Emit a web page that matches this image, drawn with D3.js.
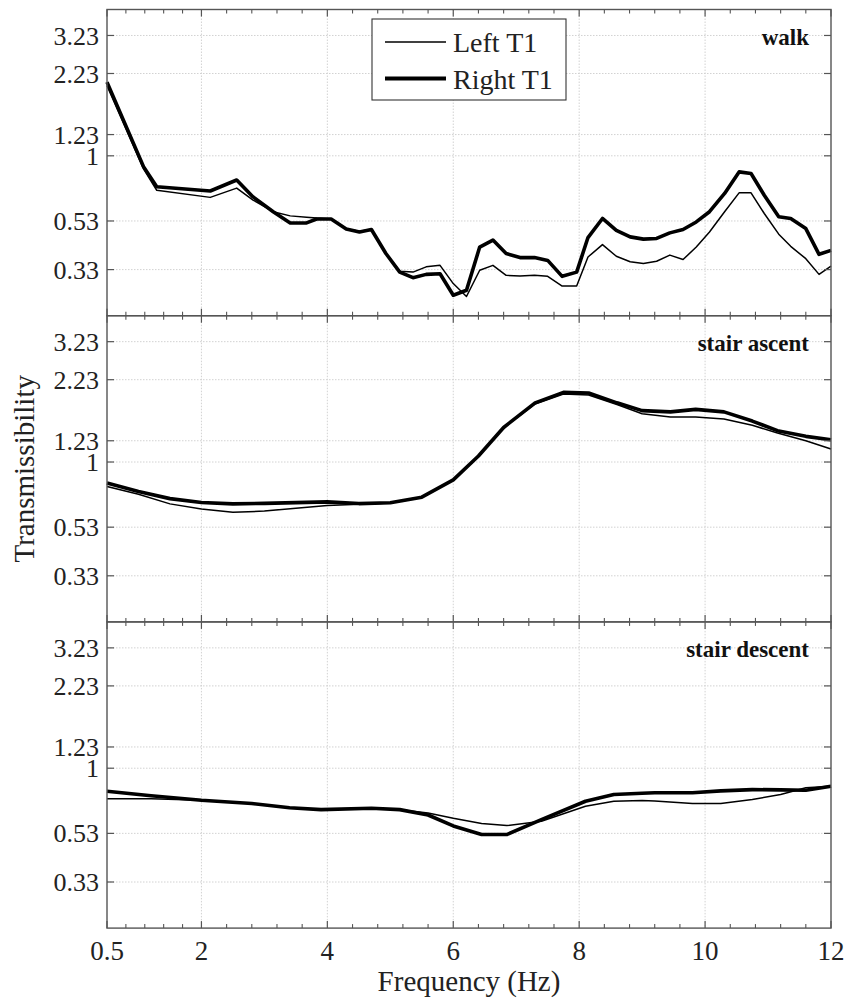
<!DOCTYPE html>
<html>
  <head>
    <title>Transmissibility</title>
    <style>
      body { margin: 0; background: #fff; }
      text { font-family: "Liberation Serif", "Times New Roman", serif; }
    </style>
  </head>
  <body>
    <script src="https://d3js.org/d3.v7.min.js"></script>
    <script>

// ---- data ----
var walkFreq  = [0.5, 1.08, 1.29, 2.14, 2.56, 2.82, 3.14, 3.41, 3.67, 3.83, 4.06, 4.3, 4.51, 4.7, 4.93, 5.15, 5.36, 5.57, 5.79, 6.0, 6.21, 6.42, 6.63, 6.84, 7.06, 7.29, 7.5, 7.73, 7.96, 8.14, 8.37, 8.59, 8.81, 9.02, 9.23, 9.44, 9.65, 9.86, 10.07, 10.31, 10.54, 10.73, 10.94, 11.17, 11.36, 11.6, 11.81, 12];
var walkLeft  = [1.98, 0.88, 0.715, 0.667, 0.73, 0.65, 0.58, 0.557, 0.55, 0.545, 0.54, 0.49, 0.48, 0.488, 0.386, 0.325, 0.322, 0.339, 0.344, 0.288, 0.254, 0.328, 0.344, 0.312, 0.31, 0.312, 0.309, 0.281, 0.281, 0.373, 0.421, 0.376, 0.356, 0.35, 0.358, 0.38, 0.364, 0.411, 0.476, 0.58, 0.697, 0.697, 0.57, 0.466, 0.414, 0.367, 0.315, 0.341];
var walkRight = [2.05, 0.9, 0.74, 0.71, 0.79, 0.67, 0.58, 0.52, 0.52, 0.54, 0.54, 0.49, 0.476, 0.488, 0.386, 0.322, 0.305, 0.315, 0.317, 0.257, 0.27, 0.411, 0.44, 0.386, 0.371, 0.371, 0.361, 0.309, 0.322, 0.451, 0.543, 0.484, 0.454, 0.444, 0.447, 0.472, 0.488, 0.525, 0.58, 0.693, 0.855, 0.842, 0.681, 0.552, 0.543, 0.492, 0.383, 0.398];

var ascentFreq  = [0.5, 1.0, 1.5, 2.0, 2.5, 3.0, 3.5, 4.0, 4.5, 5.0, 5.5, 6.0, 6.4, 6.8, 7.3, 7.75, 8.15, 8.6, 9.0, 9.45, 9.85, 10.3, 10.75, 11.15, 11.6, 12];
var ascentLeft  = [0.788, 0.73, 0.665, 0.632, 0.613, 0.62, 0.638, 0.655, 0.662, 0.67, 0.71, 0.84, 1.06, 1.4, 1.76, 1.94, 1.92, 1.75, 1.6, 1.55, 1.55, 1.52, 1.43, 1.327, 1.23, 1.135];
var ascentRight = [0.815, 0.75, 0.7, 0.674, 0.665, 0.668, 0.673, 0.678, 0.667, 0.672, 0.71, 0.84, 1.06, 1.4, 1.78, 1.97, 1.96, 1.78, 1.65, 1.63, 1.67, 1.63, 1.49, 1.357, 1.284, 1.243];

var descentFreq  = [0.5, 1.2, 2.0, 2.8, 3.4, 3.9, 4.7, 5.15, 5.6, 6.0, 6.45, 6.85, 7.4, 8.1, 8.55, 9.0, 9.2, 9.8, 10.25, 10.75, 11.2, 11.6, 12];
var descentLeft  = [0.742, 0.742, 0.732, 0.709, 0.68, 0.668, 0.677, 0.668, 0.647, 0.614, 0.583, 0.572, 0.596, 0.69, 0.725, 0.73, 0.727, 0.709, 0.709, 0.737, 0.774, 0.826, 0.839];
var descentRight = [0.799, 0.765, 0.732, 0.709, 0.68, 0.668, 0.677, 0.668, 0.634, 0.57, 0.524, 0.524, 0.606, 0.725, 0.774, 0.783, 0.787, 0.787, 0.802, 0.812, 0.81, 0.807, 0.839];

var panelNames = ["walk", "stair ascent", "stair descent"];
var seriesNames = ["Left T1", "Right T1"];
var yTickValues = [0.33, 0.53, 1, 1.23, 2.23, 3.23];
var yTickLabels = ["0.33", "0.53", "1", "1.23", "2.23", "3.23"];
var xTickValues = [0.5, 2, 4, 6, 8, 10, 12];
var xMinorTicks = [0.8, 1.1, 1.4, 1.7, 2.4, 2.8, 3.2, 3.6, 4.4, 4.8, 5.2, 5.6, 6.4, 6.8, 7.2, 7.6, 8.4, 8.8, 9.2, 9.6, 10.4, 10.8, 11.2, 11.6];

var panels = [
  { name: panelNames[0], freq: walkFreq, left: walkLeft, right: walkRight },
  { name: panelNames[1], freq: ascentFreq, left: ascentLeft, right: ascentRight },
  { name: panelNames[2], freq: descentFreq, left: descentLeft, right: descentRight }
];

// ---- layout ----
var width = 851,
    height = 1003,
    x0 = 107, x1 = 831,
    top0 = 9.5,
    panelH = 306.2,
    majorLen = 7,
    minorLen = 4,
    axisColor = "#555",
    gridColor = "#d2d2d2";

var svg = d3.select("body").append("svg")
    .attr("width", width)
    .attr("height", height);

var x = d3.scaleLinear().domain([0.5, 12]).range([x0, x1]);

panels.forEach(function (p, i) {
  var top = top0 + i * panelH,
      bottom = top + panelH;
  var y = d3.scaleLog().domain([0.2106, 4.16]).range([bottom, top]);

  var g = svg.append("g");

  // grid
  g.selectAll(".hgrid").data(yTickValues).enter().append("line")
      .attr("x1", x0).attr("x2", x1)
      .attr("y1", function (d) { return y(d); })
      .attr("y2", function (d) { return y(d); })
      .attr("stroke", gridColor).attr("stroke-width", 1)
      .attr("stroke-dasharray", "1.5,1.5");
  g.selectAll(".vgrid").data(xTickValues.slice(1, -1)).enter().append("line")
      .attr("x1", function (d) { return x(d); })
      .attr("x2", function (d) { return x(d); })
      .attr("y1", top).attr("y2", bottom)
      .attr("stroke", gridColor).attr("stroke-width", 1)
      .attr("stroke-dasharray", "1.5,1.5");

  // lines
  var line = d3.line()
      .x(function (d) { return x(d[0]); })
      .y(function (d) { return y(d[1]); });
  g.append("path")
      .datum(d3.zip(p.freq, p.right))
      .attr("d", line)
      .attr("fill", "none").attr("stroke", "#000")
      .attr("stroke-width", 3.6).attr("stroke-linejoin", "round");
  g.append("path")
      .datum(d3.zip(p.freq, p.left))
      .attr("d", line)
      .attr("fill", "none").attr("stroke", "#000")
      .attr("stroke-width", 1.5).attr("stroke-linejoin", "round");

  // frame
  g.append("rect")
      .attr("x", x0).attr("y", top)
      .attr("width", x1 - x0).attr("height", panelH)
      .attr("fill", "none").attr("stroke", axisColor).attr("stroke-width", 1.4);

  // y ticks, inward on both sides
  yTickValues.forEach(function (v) {
    g.append("line").attr("x1", x0).attr("x2", x0 + majorLen)
        .attr("y1", y(v)).attr("y2", y(v)).attr("stroke", axisColor).attr("stroke-width", 1.2);
    g.append("line").attr("x1", x1).attr("x2", x1 - majorLen)
        .attr("y1", y(v)).attr("y2", y(v)).attr("stroke", axisColor).attr("stroke-width", 1.2);
  });
  g.selectAll(".ylab").data(yTickValues).enter().append("text")
      .attr("x", 99)
      .attr("y", function (d) { return y(d); })
      .attr("dy", "0.35em")
      .attr("text-anchor", "end")
      .attr("font-size", 26)
      .attr("fill", "#222")
      .text(function (d, j) { return yTickLabels[j]; });

  // x ticks, inward top and bottom
  xTickValues.forEach(function (v) {
    g.append("line").attr("x1", x(v)).attr("x2", x(v))
        .attr("y1", top).attr("y2", top + majorLen).attr("stroke", axisColor).attr("stroke-width", 1.2);
    g.append("line").attr("x1", x(v)).attr("x2", x(v))
        .attr("y1", bottom).attr("y2", bottom - majorLen).attr("stroke", axisColor).attr("stroke-width", 1.2);
  });
  xMinorTicks.forEach(function (v) {
    g.append("line").attr("x1", x(v)).attr("x2", x(v))
        .attr("y1", top).attr("y2", top + minorLen).attr("stroke", axisColor).attr("stroke-width", 1.1);
    g.append("line").attr("x1", x(v)).attr("x2", x(v))
        .attr("y1", bottom).attr("y2", bottom - minorLen).attr("stroke", axisColor).attr("stroke-width", 1.1);
  });

  // panel name
  g.append("text")
      .attr("x", 809).attr("y", top + 35)
      .attr("text-anchor", "end")
      .attr("font-size", 23).attr("font-weight", "bold")
      .attr("fill", "#111")
      .text(p.name);

  // x tick labels on the last panel only
  if (i === panels.length - 1) {
    g.selectAll(".xlab").data(xTickValues).enter().append("text")
        .attr("x", function (d) { return x(d); })
        .attr("y", bottom + 32)
        .attr("text-anchor", "middle")
        .attr("font-size", 27)
        .attr("fill", "#222")
        .text(function (d) { return d; });
  }
});

// axis titles
svg.append("text")
    .attr("x", (x0 + x1) / 2).attr("y", 991)
    .attr("text-anchor", "middle")
    .attr("font-size", 29).attr("fill", "#222")
    .text("Frequency (Hz)");

svg.append("text")
    .attr("transform", "translate(34," + (top0 + panelH * 1.5) + ") rotate(-90)")
    .attr("text-anchor", "middle")
    .attr("font-size", 29).attr("fill", "#222")
    .text("Transmissibility");

// legend
var legend = svg.append("g");
legend.append("rect")
    .attr("x", 372).attr("y", 19)
    .attr("width", 194).attr("height", 81)
    .attr("fill", "#fff").attr("stroke", "#333").attr("stroke-width", 1.1);
seriesNames.forEach(function (s, k) {
  var ly = 42 + k * 36.5;
  legend.append("line")
      .attr("x1", 385).attr("x2", 446)
      .attr("y1", ly).attr("y2", ly)
      .attr("stroke", "#000").attr("stroke-width", k === 0 ? 1.5 : 4);
  legend.append("text")
      .attr("x", 453).attr("y", ly + 10)
      .attr("font-size", 28).attr("fill", "#222")
      .text(s);
});

    </script>
  </body>
</html>
